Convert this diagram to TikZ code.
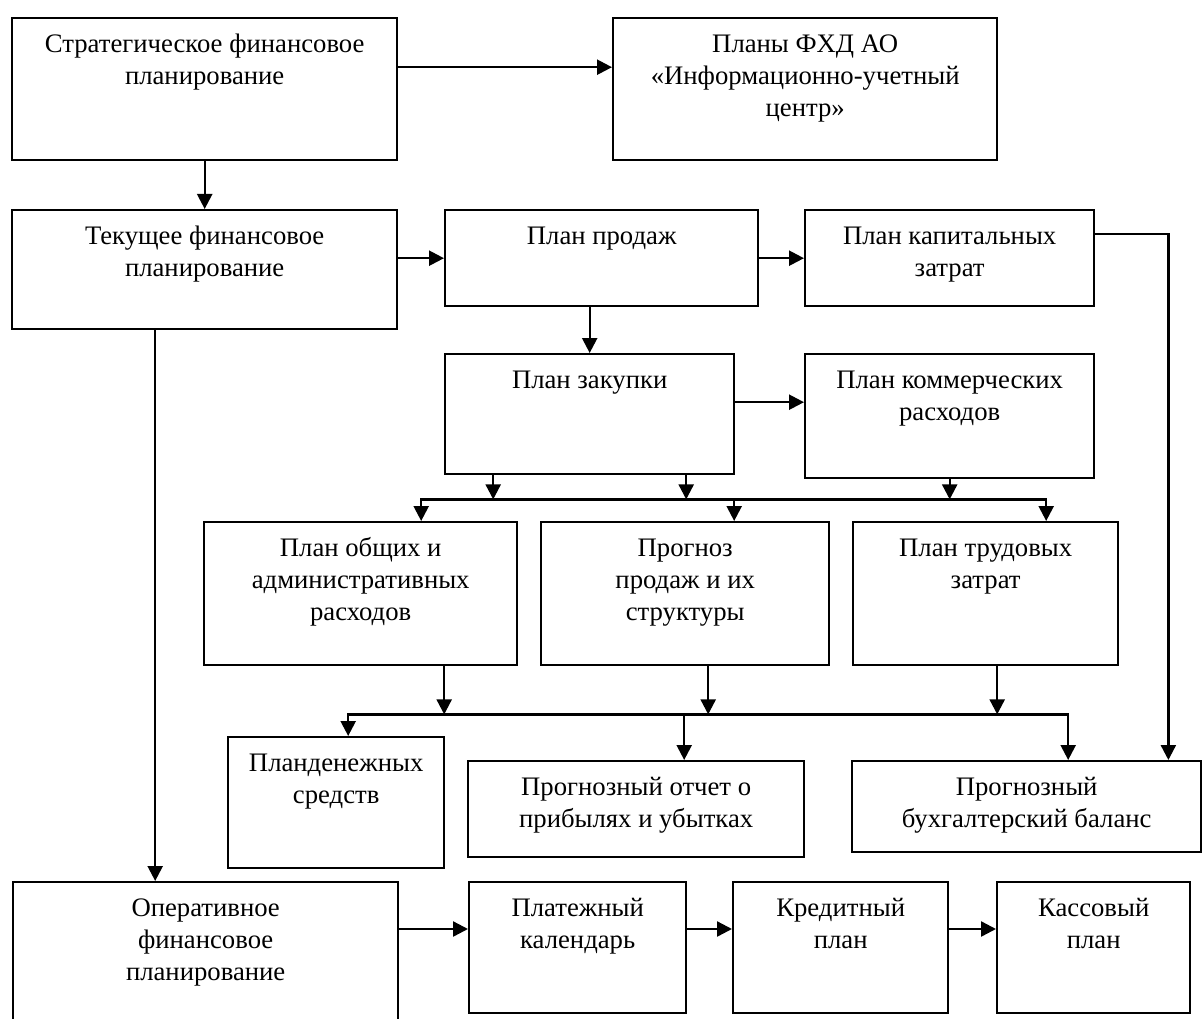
\documentclass[tikz,border=0pt]{standalone}
\usepackage{fontspec}
\setmainfont{Liberation Serif}
\usetikzlibrary{arrows.meta}

\newcommand{\boxtext}[3]{\parbox[c][#2][t]{#1}{\centering\rule{0pt}{0.69cm}#3}}

\begin{document}
\begin{tikzpicture}[>={Triangle[length=3mm,width=3mm]},line width=1.35pt,
    blk/.style={draw=black,inner sep=0pt,anchor=north west,font=\fontsize{15.2}{18.2}\selectfont}]
    \useasboundingbox (0,0) rectangle (24.04,-20.38);

    \node[blk] (A) at (0.22,-0.34) {\boxtext{7.7cm}{2.84cm}{Стратегическое финансовое\\планирование}};
    \node[blk] (B) at (12.24,-0.34) {\boxtext{7.68cm}{2.84cm}{Планы ФХД АО\\«Информационно-учетный\\центр»}};
    \node[blk] (C) at (0.22,-4.18) {\boxtext{7.7cm}{2.38cm}{Текущее финансовое\\планирование}};
    \node[blk] (D) at (8.88,-4.18) {\boxtext{6.26cm}{1.92cm}{План продаж}};
    \node[blk] (E) at (16.08,-4.18) {\boxtext{5.78cm}{1.92cm}{План капитальных\\затрат}};
    \node[blk] (F) at (8.88,-7.06) {\boxtext{5.78cm}{2.4cm}{План закупки}};
    \node[blk] (G) at (16.08,-7.06) {\boxtext{5.78cm}{2.48cm}{План коммерческих\\расходов}};
    \node[blk] (H) at (4.06,-10.42) {\boxtext{6.26cm}{2.86cm}{План общих и\\административных\\расходов}};
    \node[blk] (I) at (10.8,-10.42) {\boxtext{5.76cm}{2.86cm}{Прогноз\\продаж и их\\структуры}};
    \node[blk] (J) at (17.04,-10.42) {\boxtext{5.3cm}{2.86cm}{План трудовых\\затрат}};
    \node[blk] (K) at (4.54,-14.72) {\boxtext{4.32cm}{2.62cm}{Планденежных\\средств}};
    \node[blk] (L) at (9.34,-15.2) {\boxtext{6.72cm}{1.92cm}{Прогнозный отчет о\\прибылях и убытках}};
    \node[blk] (M) at (17.02,-15.2) {\boxtext{6.98cm}{1.82cm}{Прогнозный\\бухгалтерский баланс}};
    \node[blk] (N) at (0.24,-17.62) {\boxtext{7.7cm}{3.0cm}{Оперативное\\финансовое\\планирование}};
    \node[blk] (O) at (9.36,-17.62) {\boxtext{4.34cm}{2.62cm}{Платежный\\календарь}};
    \node[blk] (P) at (14.64,-17.62) {\boxtext{4.3cm}{2.62cm}{Кредитный\\план}};
    \node[blk] (Q) at (19.92,-17.62) {\boxtext{3.86cm}{2.62cm}{Кассовый\\план}};

    \coordinate (bus1) at ([yshift=-.48cm]F.south);
    \coordinate (bus2) at ([yshift=-.96cm]H.south);

    \draw[->] ([yshift=.44cm]A.east) -- ([yshift=.44cm]B.west);
    \draw[->] (A.south) -- (C.north);
    \draw[->] (C.east |- D.west) -- (D.west);
    \draw[->] (D.east) -- (E.west);
    \draw[->] (F.north |- D.south) -- (F.north);
    \draw[->] ([yshift=.24cm]F.east) -- ([yshift=.24cm]F.east -| G.west);
    \draw[->] ([yshift=.48cm]E.east) -| ([xshift=-.68cm]M.north east);
    \draw[->] ([xshift=-.99cm]C.south) -- ([xshift=-.99cm]C.south |- N.north);

    % first bus
    \draw[->] ([xshift=-1.93cm]F.south) -- ([xshift=-1.93cm]F.south |- bus1);
    \draw[->] ([xshift=1.93cm]F.south) -- ([xshift=1.93cm]F.south |- bus1);
    \draw[->] (G.south) -- (G.south |- bus1);
    \draw[<->] ([xshift=1.21cm]H.north) -- ([xshift=1.21cm]H.north |- bus1) -- ([xshift=1.21cm]J.north |- bus1) -- ([xshift=1.21cm]J.north);
    \draw[->] ([xshift=.98cm]I.north |- bus1) -- ([xshift=.98cm]I.north);

    % second bus
    \draw[->] ([xshift=1.67cm]H.south) -- ([xshift=1.67cm]H.south |- bus2);
    \draw[->] ([xshift=.46cm]I.south) -- ([xshift=.46cm]I.south |- bus2);
    \draw[->] ([xshift=.23cm]J.south) -- ([xshift=.23cm]J.south |- bus2);
    \draw[<->] ([xshift=.24cm]K.north) -- ([xshift=.24cm]K.north |- bus2) -- ([xshift=.83cm]M.north |- bus2) -- ([xshift=.83cm]M.north);
    \draw[->] ([xshift=.96cm]L.north |- bus2) -- ([xshift=.96cm]L.north);

    \draw[->] ([yshift=-.96cm]N.north east) -- ([yshift=-.96cm]O.north west);
    \draw[->] ([yshift=-.96cm]O.north east) -- ([yshift=-.96cm]P.north west);
    \draw[->] ([yshift=-.96cm]P.north east) -- ([yshift=-.96cm]Q.north west);
\end{tikzpicture}
\end{document}
